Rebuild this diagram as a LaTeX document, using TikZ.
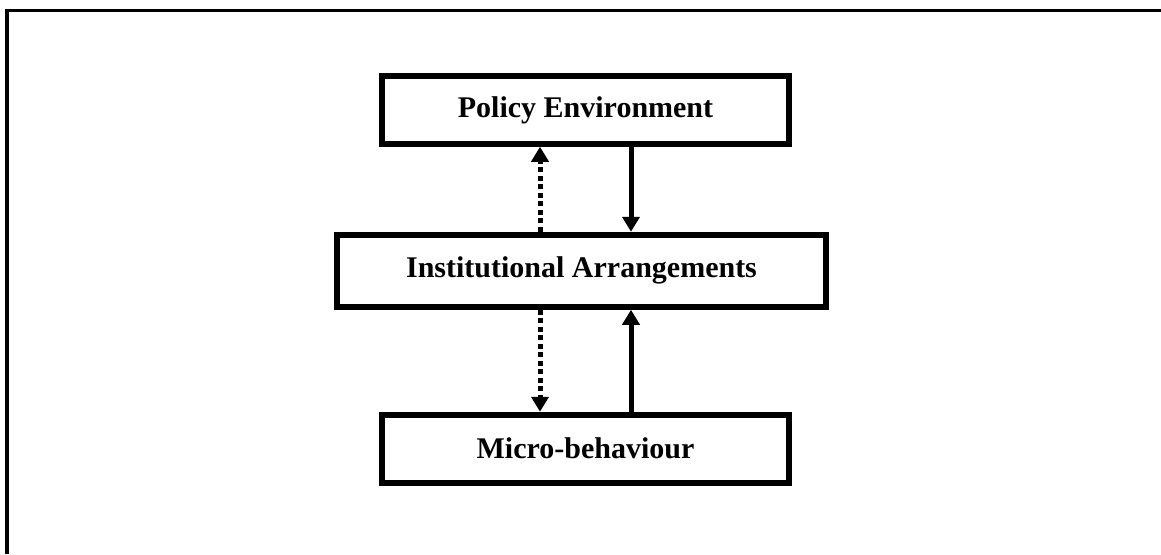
\documentclass[tikz,border=0pt]{standalone}
\usepackage{fontspec}
\setmainfont{Liberation Serif}
\usetikzlibrary{positioning,arrows.meta}

\begin{document}
\begin{tikzpicture}[x=0.4pt,y=-0.4pt,
        box/.style = {draw, rectangle, line width=2.4pt, font=\bfseries\fontsize{12}{14}\selectfont, minimum width=162.8pt, minimum height=27pt},
        flow/.style = {line width=2pt, -{Triangle[width=6.8pt,length=6pt]}},
        back/.style = {flow, dash pattern=on 2pt off 1.4pt}]
        \useasboundingbox (0,0) rectangle (1161,554);
        \draw[line width=1.2pt] (7,554) -- (7,10.5) -- (1161,10.5);
        \node[box] (pol) at (585.5,110) {Policy Environment};
        \node[box, minimum width=195.6pt, minimum height=28.8pt] (inst) [below=34pt of pol, xshift=-1.6pt] {Institutional Arrangements};
        \node[box, minimum height=27.2pt] (micro) [below=40.8pt of inst, xshift=1.6pt] {Micro-behaviour};
        \draw[flow] ([xshift=18.2pt]pol.south) -- ([xshift=18.2pt]pol.south |- inst.north);
        \draw[back] ([xshift=-18.2pt]pol.south |- inst.north) -- ([xshift=-18.2pt]pol.south);
        \draw[flow] ([xshift=18.2pt]pol.south |- micro.north) -- ([xshift=18.2pt]pol.south |- inst.south);
        \draw[back] ([xshift=-18.2pt]pol.south |- inst.south) -- ([xshift=-18.2pt]pol.south |- micro.north);
\end{tikzpicture}
\end{document}
